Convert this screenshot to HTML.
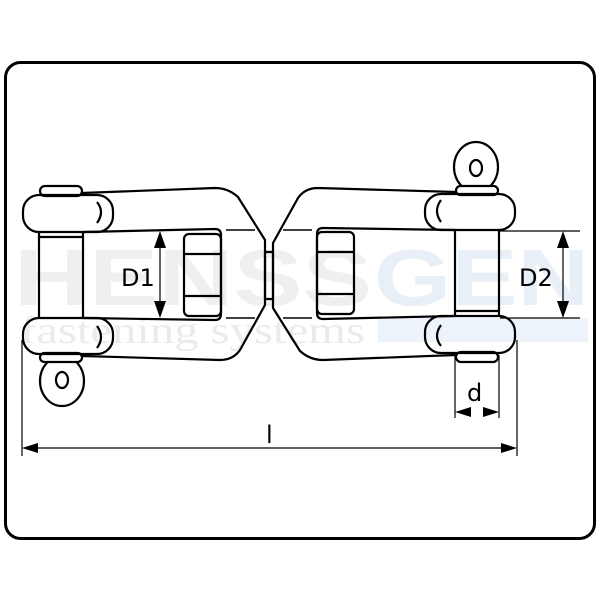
<!DOCTYPE html>
<html><head><style>
html,body{margin:0;padding:0;background:#fff;width:600px;height:600px;overflow:hidden}
svg{display:block}
text{font-family:"DejaVu Sans","Liberation Sans",sans-serif}
</style></head><body>
<svg width="600" height="600" viewBox="0 0 600 600" xmlns="http://www.w3.org/2000/svg">
<rect x="5.5" y="62.5" width="589" height="476" rx="15" fill="#fff" stroke="#000" stroke-width="3"/>
<!-- watermark -->
<text x="14" y="305" font-size="80" font-weight="bold" fill="#efefef" style="font-family:'Liberation Sans',sans-serif" textLength="358" lengthAdjust="spacingAndGlyphs">HENSS</text>
<text x="374" y="305" font-size="80" font-weight="bold" fill="#e8eff7" style="font-family:'Liberation Sans',sans-serif" textLength="215" lengthAdjust="spacingAndGlyphs">GEN</text>
<text x="20" y="343" font-size="38" fill="#ebebeb" style="font-family:'Liberation Serif',serif" textLength="345" lengthAdjust="spacingAndGlyphs">fastening systems</text>
<rect x="378" y="318" width="210" height="24" fill="#edf3fa"/>
<g fill="none" stroke="#000" stroke-width="2.2" stroke-linejoin="round">
<g id="sh">
  <path d="M82 193 L215 188 Q228 188 238 197 L265 240 L265 305 L240 350 Q233 360 220 360 L82 356"/>
  <rect x="40" y="186" width="42" height="10" rx="5" fill="#fff"/>
  <ellipse cx="62" cy="381" rx="22" ry="25" fill="#fff"/>
  <rect x="40" y="353" width="42" height="9" rx="4.5" fill="#fff"/>
  <ellipse cx="62" cy="380" rx="6" ry="8"/>
  <rect x="23" y="195" width="90" height="37" rx="16"/>
  <rect x="23" y="318" width="90" height="36" rx="16"/>
  <path d="M83 232 L215 229 Q221 229 221 235 L221 314 Q221 320 215 320 L83 318"/>
  <line x1="39" y1="232" x2="39" y2="318"/>
  <line x1="83" y1="232" x2="83" y2="318"/>
  <line x1="39" y1="237" x2="83" y2="237"/>
  <rect x="184" y="234" width="37" height="82" rx="5"/>
  <line x1="184" y1="254" x2="221" y2="254"/>
  <line x1="184" y1="296" x2="221" y2="296"/>
  <path d="M97 202 Q105 212 97 223"/>
  <path d="M97 326 Q105 337 97 348"/>
  <line x1="226" y1="230" x2="255" y2="230" stroke-width="1.5"/>
  <line x1="226" y1="318" x2="255" y2="318" stroke-width="1.5"/>
</g>
<use href="#sh" transform="translate(538,548) scale(-1,-1)"/>
<rect x="265" y="252" width="8" height="47"/>
</g>
<!-- dimensions -->
<g stroke="#000" stroke-width="1.2" fill="none">
  <line x1="160" y1="240" x2="160" y2="310"/>
  <line x1="500" y1="231" x2="580" y2="231"/>
  <line x1="500" y1="318" x2="580" y2="318"/>
  <line x1="563" y1="240" x2="563" y2="310"/>
  <line x1="455" y1="355" x2="455" y2="418"/>
  <line x1="499" y1="355" x2="499" y2="418"/>
  <line x1="22" y1="340" x2="22" y2="456"/>
  <line x1="517" y1="340" x2="517" y2="456"/>
  <line x1="30" y1="448" x2="510" y2="448"/>
</g>
<g fill="#000">
  <polygon points="160,231 154,248 166,248"/>
  <polygon points="160,318 154,301 166,301"/>
  <polygon points="563,231 557,248 569,248"/>
  <polygon points="563,318 557,301 569,301"/>
  <polygon points="455,412 471,407 471,417"/>
  <polygon points="499,412 483,407 483,417"/>
  <polygon points="22,448 38,443 38,453"/>
  <polygon points="517,448 501,443 501,453"/>
</g>
<text x="121" y="286" font-size="24" fill="#000">D1</text>
<text x="519" y="286" font-size="24" fill="#000">D2</text>
<text x="467" y="401" font-size="24" fill="#000">d</text>
<text x="266" y="443" font-size="24" fill="#000">l</text>
</svg>
</body></html>
